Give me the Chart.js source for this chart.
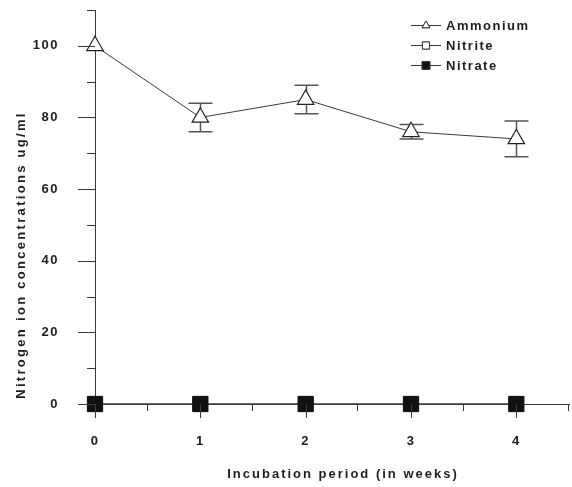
<!DOCTYPE html>
<html>
<head>
<meta charset="utf-8">
<script src="https://cdn.jsdelivr.net/npm/chart.js@4.4.1/dist/chart.umd.min.js"></script>
<style>
  html, body { margin: 0; padding: 0; background: #fff; }
</style>
</head>
<body>
<canvas id="chart" width="572" height="487"></canvas>
<script>
// data
const weeks = [0, 1, 2, 3, 4];
const ammonium = [100, 80, 85, 76, 74];
const ammoniumHigh = [100, 84, 89, 78, 79];
const ammoniumLow = [100, 76, 81, 74, 69];
const nitrite = [0, 0, 0, 0, 0];
const nitrate = [0, 0, 0, 0, 0];
const seriesNames = ['Ammonium', 'Nitrite', 'Nitrate'];
const yTicks = [0, 20, 40, 60, 80, 100];
const yMinorTicks = [10, 30, 50, 70, 90, 110];
const xTicks = [0, 1, 2, 3, 4];
const xMinorTicks = [0.5, 1.5, 2.5, 3.5, 4.5];

const ink = '#1e1e1e';
const lineCol = '#3a3a3a';
const fontFamily = '"Liberation Sans", Arial, sans-serif';

function pts(values) {
	return weeks.map(function(w, i) { return { x: w, y: values[i] }; });
}

// letter spacing for all canvas text (set before layout so widths match)
const spacingPlugin = {
	id: 'spacing',
	beforeUpdate: function(chart) { chart.ctx.letterSpacing = '1.5px'; },
	beforeDraw: function(chart) { chart.ctx.letterSpacing = '1.5px'; }
};

// tick marks: long at labelled values, short in between
const tickPlugin = {
	id: 'tickMarks',
	afterDraw: function(chart) {
		const ctx = chart.ctx;
		const xs = chart.scales.x, ys = chart.scales.y;
		const x0 = xs.left, y0 = ys.bottom;
		ctx.save();
		ctx.strokeStyle = lineCol;
		ctx.lineWidth = 1;
		ctx.beginPath();
		yTicks.forEach(function(v) {
			const p = Math.round(ys.getPixelForValue(v)) + 0.5;
			ctx.moveTo(x0 - 17, p); ctx.lineTo(x0, p);
		});
		yMinorTicks.forEach(function(v) {
			const p = Math.round(ys.getPixelForValue(v)) + 0.5;
			ctx.moveTo(x0 - 8, p); ctx.lineTo(x0, p);
		});
		xTicks.forEach(function(v) {
			const p = Math.round(xs.getPixelForValue(v)) + 0.5;
			ctx.moveTo(p, y0); ctx.lineTo(p, y0 + 14);
		});
		xMinorTicks.forEach(function(v) {
			const p = Math.round(xs.getPixelForValue(v)) - 0.5;
			ctx.moveTo(p, y0); ctx.lineTo(p, y0 + 7);
		});
		ctx.stroke();
		ctx.restore();
	}
};

// error bars behind the markers
const errorBarPlugin = {
	id: 'errorBars',
	beforeDatasetsDraw: function(chart) {
		const ctx = chart.ctx;
		const xs = chart.scales.x, ys = chart.scales.y;
		ctx.save();
		ctx.strokeStyle = '#555';
		ctx.lineWidth = 1.5;
		ctx.beginPath();
		weeks.forEach(function(w, i) {
			if (ammoniumHigh[i] === ammoniumLow[i]) return;
			const px = Math.round(xs.getPixelForValue(w)) + 0.5;
			const hi = ys.getPixelForValue(ammoniumHigh[i]);
			const lo = ys.getPixelForValue(ammoniumLow[i]);
			ctx.moveTo(px, hi); ctx.lineTo(px, lo);
			ctx.moveTo(px - 12, hi); ctx.lineTo(px + 12, hi);
			ctx.moveTo(px - 12, lo); ctx.lineTo(px + 12, lo);
		});
		ctx.stroke();
		ctx.restore();
	}
};

// axis titles and legend
const textPlugin = {
	id: 'texts',
	afterDraw: function(chart) {
		const ctx = chart.ctx;
		ctx.save();
		ctx.fillStyle = ink;
		ctx.font = 'bold 13px ' + fontFamily;
		ctx.textAlign = 'center';
		ctx.textBaseline = 'middle';
		ctx.letterSpacing = '2px';
		ctx.fillText('Incubation period (in weeks)', 343, 474);
		ctx.letterSpacing = '2.3px';
		ctx.translate(21, 255);
		ctx.rotate(-Math.PI / 2);
		ctx.fillText('Nitrogen ion concentrations ug/ml', 0, 0);
		ctx.restore();

		const styles = [
			{ pointStyle: 'triangle', radius: 4.5, fill: '#fff' },
			{ pointStyle: 'rect', radius: 5, fill: '#fff' },
			{ pointStyle: 'rect', radius: 5.5, fill: '#111' }
		];
		ctx.save();
		ctx.font = 'bold 13px ' + fontFamily;
		ctx.letterSpacing = '1.5px';
		ctx.textBaseline = 'middle';
		ctx.textAlign = 'left';
		seriesNames.forEach(function(name, i) {
			const y = 25 + i * 20;
			ctx.strokeStyle = lineCol;
			ctx.lineWidth = 1;
			ctx.beginPath();
			ctx.moveTo(411, y + 0.5); ctx.lineTo(441, y + 0.5);
			ctx.stroke();
			ctx.fillStyle = styles[i].fill;
			Chart.helpers.drawPoint(ctx, { pointStyle: styles[i].pointStyle, radius: styles[i].radius, rotation: 0, borderWidth: 1 }, 426, y + 0.5);
			ctx.fill();
			ctx.stroke();
			ctx.fillStyle = ink;
			ctx.fillText(name, 446, y + 1);
		});
		ctx.restore();
	}
};

new Chart(document.getElementById('chart'), {
	type: 'line',
	data: {
		datasets: [
			{
				label: seriesNames[0],
				data: pts(ammonium),
				borderColor: lineCol,
				borderWidth: 1,
				pointStyle: 'triangle',
				pointRadius: 9.5,
				pointBorderWidth: 1.2,
				pointBackgroundColor: '#fff',
				pointBorderColor: '#222',
				order: 3
			},
			{
				label: seriesNames[1],
				data: pts(nitrite),
				borderColor: lineCol,
				borderWidth: 1,
				pointStyle: 'rect',
				pointRadius: 10,
				pointBackgroundColor: '#fff',
				pointBorderColor: '#222',
				order: 2
			},
			{
				label: seriesNames[2],
				data: pts(nitrate),
				borderColor: lineCol,
				borderWidth: 1,
				pointStyle: 'rect',
				pointRadius: 10.8,
				pointBackgroundColor: '#111',
				pointBorderColor: '#111',
				order: 1
			}
		]
	},
	options: {
		responsive: false,
		animation: false,
		clip: false,
		layout: { autoPadding: false, padding: { top: 10, right: 3, left: 0, bottom: 0 } },
		plugins: {
			legend: { display: false },
			tooltip: { enabled: false }
		},
		scales: {
			x: {
				type: 'linear',
				min: 0,
				max: 4.5,
				bounds: 'data',
				afterBuildTicks: function(scale) { scale.ticks = xTicks.map(function(v) { return { value: v }; }); },
				afterFit: function(scale) { scale.height = 83; scale.paddingLeft = 0; scale.paddingRight = 0; },
				grid: { display: false, drawTicks: false },
				border: { display: true, color: lineCol, width: 1 },
				ticks: { stepSize: 0.5, color: ink, padding: 30, font: { family: fontFamily, size: 13, weight: 'bold' } }
			},
			y: {
				min: 0,
				max: 110,
				bounds: 'data',
				afterBuildTicks: function(scale) { scale.ticks = yTicks.map(function(v) { return { value: v }; }); },
				afterFit: function(scale) { scale.width = 95; scale.paddingTop = 0; scale.paddingBottom = 0; },
				grid: { display: false, drawTicks: false },
				border: { display: true, color: lineCol, width: 1 },
				ticks: { stepSize: 10, color: ink, padding: 36, font: { family: fontFamily, size: 13, weight: 'bold' } }
			}
		}
	},
	plugins: [spacingPlugin, errorBarPlugin, tickPlugin, textPlugin]
});
</script>
</body>
</html>
